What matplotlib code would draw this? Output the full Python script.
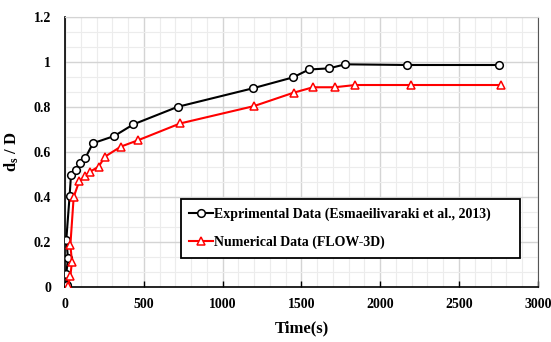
import matplotlib
matplotlib.use("Agg")
import matplotlib.pyplot as plt
from matplotlib.ticker import MultipleLocator

# experimental data (Esmaeilivaraki et al., 2013)
t_exp = [15, 8, 19, 8, 29, 38, 67, 92, 128, 177, 312, 434, 715, 1190, 1447,
         1548, 1675, 1778, 2171, 2755]
ds_exp = [0.01, 0.058, 0.128, 0.209, 0.404, 0.498, 0.52, 0.55, 0.572, 0.639,
          0.671, 0.723, 0.801, 0.883, 0.932, 0.967, 0.972, 0.99, 0.987, 0.987]

# numerical data (FLOW-3D)
t_num = [19, 34, 44, 34, 55, 90, 129, 160, 213, 255, 354, 466, 730, 1198, 1451,
         1574, 1711, 1842, 2198, 2766]
ds_num = [0.004, 0.049, 0.112, 0.187, 0.40, 0.47, 0.495, 0.513, 0.535, 0.58,
          0.624, 0.653, 0.727, 0.804, 0.864, 0.888, 0.888, 0.898, 0.898, 0.898]

plt.rcParams['font.family'] = ['Liberation Serif', 'DejaVu Serif']
plt.rcParams['font.weight'] = 'bold'
plt.rcParams['axes.labelweight'] = 'bold'
plt.rcParams['mathtext.fontset'] = 'custom'
plt.rcParams['mathtext.rm'] = 'Liberation Serif:bold'
plt.rcParams['mathtext.default'] = 'rm'

fig = plt.figure(figsize=(5.51, 3.42), dpi=100)
ax = fig.add_axes([0.118, 0.161, 0.858, 0.789])

ax.plot(t_exp, ds_exp, color='black', lw=1.5, marker='o', ms=5.5,
        mfc='white', mec='black', mew=1.1,
        label="Exprimental Data (Esmaeilivaraki et al., 2013)", zorder=3)
ax.plot(t_num, ds_num, color='red', lw=1.5, marker='^', ms=5.5,
        mfc='white', mec='red', mew=1.1,
        label="Numerical Data (FLOW-3D)", zorder=4)

ax.set_xlim(0, 3000)
ax.set_ylim(0, 1.2)
ax.xaxis.set_major_locator(MultipleLocator(500))
ax.xaxis.set_minor_locator(MultipleLocator(100))
ax.yaxis.set_minor_locator(MultipleLocator(0.2 / 3))
ax.set_yticks([0, 0.2, 0.4, 0.6, 0.8, 1.0, 1.2])
ax.set_yticklabels(['0', '0.2', '0.4', '0.6', '0.8', '1', '1.2'])

ax.grid(which='major', color='#d4d4d4', lw=1.0, zorder=0)
ax.grid(which='minor', color='#ececec', lw=0.8, zorder=0)
ax.set_axisbelow(True)

ax.tick_params(axis='x', which='major', direction='in', length=4, width=1,
               labelsize=10, pad=8)
ax.tick_params(axis='x', which='minor', length=0)
ax.tick_params(axis='y', which='both', length=0, labelsize=10, pad=10)

ax.spines['left'].set_linewidth(1.2)
ax.spines['bottom'].set_linewidth(1.2)
ax.spines['right'].set_color('#555555')
ax.spines['top'].set_color('#d4d4d4')

ax.set_xlabel('Time(s)', fontsize=12, fontweight='bold', labelpad=7)
ax.set_ylabel('d$_s$ / D', fontsize=12, fontweight='bold', labelpad=9)

leg = ax.legend(loc='lower left', bbox_to_anchor=(0.245, 0.107, 0.717, 0.223),
                mode='expand', fancybox=False, framealpha=1, borderaxespad=0,
                edgecolor='black', handlelength=1.7, handletextpad=0.1,
                borderpad=0.62, labelspacing=1.08,
                prop={'weight': 'bold', 'size': 10})
leg.get_frame().set_linewidth(1.3)

fig.savefig('out.png', dpi=100)
